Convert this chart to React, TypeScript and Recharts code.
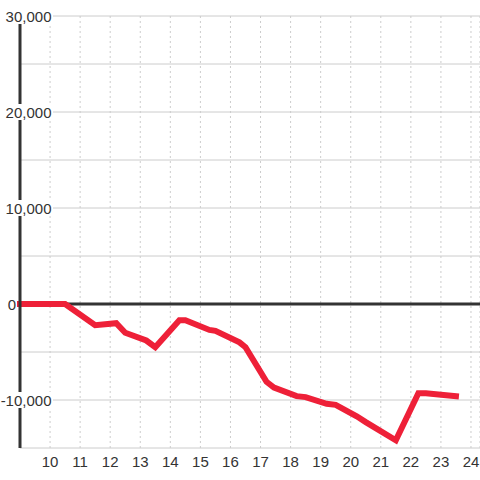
import React from "react";
import { LineChart, Line, XAxis, YAxis, CartesianGrid, ReferenceLine } from "recharts";

const days: number[] = [9, 10.5, 11.5, 12.2, 12.5, 13.2, 13.5, 14.3, 14.5, 15.3, 15.5, 16.3, 16.5, 17.2, 17.45, 18.2, 18.5, 19.2, 19.5, 20.2, 20.5, 21.5, 22.25, 22.5, 23.5];
const values: number[] = [0, 0, -2200, -2000, -3000, -3800, -4500, -1700, -1700, -2700, -2800, -4000, -4500, -8100, -8700, -9600, -9700, -10400, -10500, -11700, -12300, -14200, -9300, -9300, -9600];

const xTicks: number[] = [10, 11, 12, 13, 14, 15, 16, 17, 18, 19, 20, 21, 22, 23, 24];
const yTicks: number[] = [-15000, -10000, -5000, 0, 5000, 10000, 15000, 20000, 25000, 30000];
const yLabelTicks: number[] = [-10000, 0, 10000, 20000, 30000];

const data = days.map((d, i) => ({ day: d, value: values[i] }));

const FONT = "'Liberation Sans', Arial, sans-serif";

const fmt = (v: number) => v.toLocaleString("en-US");

const textWidth = (s: string) => {
  let w = 0;
  for (const c of s) {
    if (c === ",") w += 4.17;
    else if (c === "-") w += 5;
    else w += 8.34;
  }
  return w;
};

const YTick = (props: any) => {
  const { y, payload } = props;
  const v = payload.value as number;
  if (!yLabelTicks.includes(v)) return null;
  const label = fmt(v);
  const w = textWidth(label);
  const right = v === 0 ? 16 : 51.5;
  return (
    <g>
      {v !== 0 && <rect x={right - w - 1} y={y - 8} width={w + 2.5} height={16} fill="#ffffff" />}
      <text x={right} y={y + 5.5} textAnchor="end" fontSize={15} fill="#333333" fontFamily={FONT}>
        {label}
      </text>
    </g>
  );
};

const XTick = (props: any) => {
  const { x, y, payload } = props;
  return (
    <text x={x} y={y + 18.5} textAnchor="middle" fontSize={15} fill="#333333" fontFamily={FONT}>
      {payload.value}
    </text>
  );
};

export default function App() {
  return (
    <div style={{ position: "absolute", left: 0, top: 0, width: 480, height: 480, background: "#ffffff" }}>
      <LineChart width={480} height={480} data={data} margin={{ top: 16, right: 0, bottom: 0, left: 0 }}>
        <CartesianGrid horizontal={true} vertical={false} stroke="#cccccc" strokeWidth={1} />
        <CartesianGrid horizontal={false} vertical={true} stroke="#cccccc" strokeDasharray="2 3" strokeWidth={1} />
        <XAxis
          dataKey="day"
          type="number"
          domain={[9, 24.3]}
          ticks={xTicks}
          axisLine={false}
          tickLine={false}
          tickSize={0}
          tickMargin={0}
          height={32}
          tick={<XTick />}
        />
        <YAxis
          type="number"
          domain={[-15000, 30000]}
          ticks={yTicks}
          width={20}
          axisLine={{ stroke: "#333333", strokeWidth: 3 }}
          tickLine={false}
          tick={<YTick />}
        />
        <ReferenceLine y={0} stroke="#333333" strokeWidth={3} />
        <Line
          dataKey="value"
          type="linear"
          stroke="#ee2038"
          strokeWidth={6}
          strokeLinecap="square"
          dot={false}
          activeDot={false}
          isAnimationActive={false}
        />
      </LineChart>
    </div>
  );
}
